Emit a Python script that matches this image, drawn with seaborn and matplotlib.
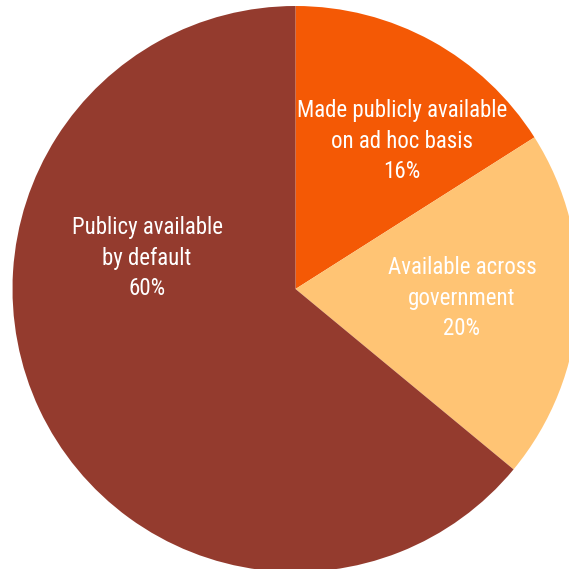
import matplotlib
matplotlib.use("Agg")
import matplotlib.pyplot as plt
import seaborn as sns
from matplotlib import font_manager

categories = ["Made publicly available\non ad hoc basis", "Available across\ngovernment", "Publicy available\nby default"]
shares = [16, 20, 64]
pct_labels = ["16%", "20%", "60%"]
colors = ["#F45905", "#FFC474", "#943B2E"]

sns.set_style("white")
fams = set(f.name for f in font_manager.fontManager.ttflist)
cands = ["Liberation Sans Narrow", "Arial Narrow", "Roboto Condensed", "PT Sans Narrow", "Archivo Narrow", "Liberation Sans"]
fam = next(c for c in cands if c in fams)
plt.rcParams["font.family"] = [fam, "DejaVu Sans"]

fig = plt.figure(figsize=(5.69, 5.69), dpi=100)
R = 283
cx, cy = 295.5, 569 - 289
ax = fig.add_axes([(cx - R) / 569, (cy - R) / 569, 2 * R / 569, 2 * R / 569])
ax.pie(shares, colors=colors, startangle=90, counterclock=False, radius=1,
       wedgeprops=dict(linewidth=0))
ax.set_xlim(-1, 1)
ax.set_ylim(-1, 1)
ax.set_aspect("equal")
ax.axis("off")

pos = [(402, 141), (462, 298), (147, 258)]
for (px, py), cat, pl in zip(pos, categories, pct_labels):
    ax.text((px - 295.5) / R, (289 - py) / R, cat + "\n" + pl, ha="center", va="center",
            color="white", fontsize=16.5, linespacing=1.4)

fig.savefig("out.png", dpi=100)
